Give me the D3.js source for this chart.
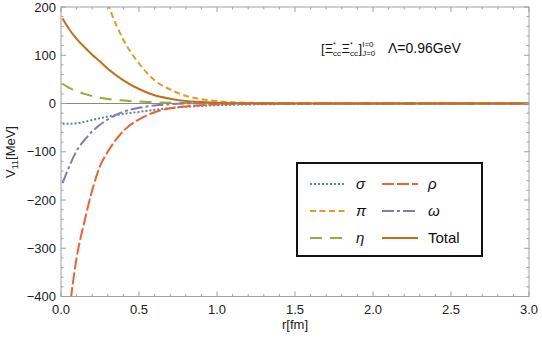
<!DOCTYPE html>
<html><head><meta charset="utf-8">
<script src="https://cdn.jsdelivr.net/npm/d3@7"></script>
<style>body{margin:0;background:#fff}svg{display:block;font-family:"Liberation Sans",Arial,sans-serif}</style>
</head><body>
<svg id="c" width="542" height="340"></svg>
<script>
const r      = [0.01,0.05,0.1,0.15,0.2,0.25,0.3,0.4,0.5,0.6,0.7,0.8,0.9,1.0,1.2,1.5,2.0,2.5,3.0];
const sigma  = [-42,-42,-41,-38,-34,-30.5,-27,-21.5,-17.5,-13,-9.5,-7,-5,-3.5,-2,-1,-0.3,-0.1,0];
const pi     = [790,660,520,415,330,262,208,132,83,48,29,16,9,5,1.5,0.3,0,0,0];
const eta    = [41,33,26,20,15.5,12,9.5,6,4,2.5,1.5,1,0.6,0.4,0.2,0.1,0,0,0];
const rho    = [-560,-440,-320,-245,-180,-130,-100,-57,-33,-18,-10,-6,-3.5,-2,-0.8,-0.2,0,0,0];
const omega  = [-165,-133,-98,-76,-58,-44,-33,-17,-9,-4,-1.5,0,0.5,0.6,0.5,0.2,0,0,0];
const total  = [176,155,134,117,101,87,72,48,30,17,10,5,3,1.5,0.5,0.1,0,0,0];
const xTicks = [0,0.5,1.0,1.5,2.0,2.5,3.0];
const yTicks = [-400,-300,-200,-100,0,100,200];

const series = [
  {name:"σ", vals:sigma, color:"#5E81B5", dash:"2,2", italic:true},
  {name:"π", vals:pi,    color:"#E19C24", dash:"6,3.5", italic:true},
  {name:"η", vals:eta,   color:"#8FB032", dash:"12,8", italic:true},
  {name:"ρ", vals:rho,   color:"#EB6235", dash:"12,3", italic:true},
  {name:"ω", vals:omega, color:"#8778B3", dash:"12,3,3,3", italic:true},
  {name:"Total", vals:total, color:"#C56E1A", dash:null, italic:false}
];

const L=61,R=529,T=7,B=296.5;
const x=d3.scaleLinear().domain([0,3]).range([L,R]);
const y=d3.scaleLinear().domain([-400,200]).range([B,T]);
const svg=d3.select("#c");

svg.append("defs").append("clipPath").attr("id","clip")
  .append("rect").attr("x",L).attr("y",T).attr("width",R-L).attr("height",B-T);

svg.append("line").attr("x1",L).attr("x2",R).attr("y1",y(0)).attr("y2",y(0))
  .attr("stroke","#8a8a8a").attr("stroke-width",1.2);

const line=d3.line().x((d,i)=>x(r[i])).y(d=>y(d)).curve(d3.curveMonotoneX);
const g=svg.append("g").attr("clip-path","url(#clip)");
series.forEach(s=>{
  g.append("path").attr("d",line(s.vals)).attr("fill","none")
   .attr("stroke",s.color).attr("stroke-width",2)
   .attr("stroke-dasharray",s.dash);
});

const fc="#a0a0a0";
svg.append("rect").attr("x",L).attr("y",T).attr("width",R-L).attr("height",B-T)
  .attr("fill","none").attr("stroke",fc).attr("stroke-width",1);

const xMinor=d3.range(0,3.0001,0.1);
const yMinor=d3.range(-400,200.001,20);
const tk=svg.append("g").attr("stroke",fc).attr("stroke-width",1);
xMinor.forEach(v=>{
  const major=xTicks.some(t=>Math.abs(t-v)<1e-6); const len=major?5:2.5;
  tk.append("line").attr("x1",x(v)).attr("x2",x(v)).attr("y1",B).attr("y2",B-len);
  tk.append("line").attr("x1",x(v)).attr("x2",x(v)).attr("y1",T).attr("y2",T+len);
});
yMinor.forEach(v=>{
  const major=yTicks.some(t=>Math.abs(t-v)<1e-6); const len=major?5:2.5;
  tk.append("line").attr("x1",L).attr("x2",L+len).attr("y1",y(v)).attr("y2",y(v));
  tk.append("line").attr("x1",R).attr("x2",R-len).attr("y1",y(v)).attr("y2",y(v));
});

xTicks.forEach(v=>{
  svg.append("text").attr("x",x(v)).attr("y",B+17).attr("text-anchor","middle")
    .attr("font-size",13).attr("fill","#222").text(v.toFixed(1));
});
yTicks.forEach(v=>{
  svg.append("text").attr("x",L-5).attr("y",y(v)+4.5).attr("text-anchor","end")
    .attr("font-size",13).attr("fill","#222").text(v<0?"\u2212"+Math.abs(v):v);
});

svg.append("text").attr("x",295).attr("y",329).attr("text-anchor","middle")
  .attr("font-size",13).attr("fill","#222").text("r[fm]");
const yl=svg.append("text").attr("transform","translate(15,152) rotate(-90)")
  .attr("text-anchor","middle").attr("font-size",13).attr("fill","#222");
yl.append("tspan").text("V");
yl.append("tspan").attr("font-size",9).attr("dy",3).text("11");
yl.append("tspan").attr("dy",-3).text("[MeV]");

// annotation, laid out piece by piece
const base=53;
let cx=321;
const ann=svg.append("g").attr("fill","#111");
function put(str,size,dy){
  const t=ann.append("text").attr("x",cx).attr("y",base+dy).attr("font-size",size).text(str);
  return t.node().getComputedTextLength();
}
cx+=put("[",13,0);
cx+=put("Ξ",13,0);
{ const w1=put("*",7,-6.5); const w2=put("cc",8,2.5); cx+=Math.max(w1,w2)+0.5; }
cx+=put("Ξ",13,0);
{ const w1=put("*",7,-6.5); const w2=put("cc",8,2.5); cx+=Math.max(w1,w2)+0.5; }
cx+=put("]",13,0);
{ const w1=put("I=0",8,-6); const w2=put("J=0",8,3); cx+=Math.max(w1,w2); }
cx=388;
put("Λ=0.96GeV",14,0);

// legend
svg.append("rect").attr("x",297).attr("y",163).attr("width",185).attr("height",93)
  .attr("fill","#fff").attr("stroke","#111").attr("stroke-width",2);
const cols=[{lx:310,tx:356},{lx:382,tx:428}];
const rows=[184,211,238];
const order=[[0,0,0],[3,1,0],[1,0,1],[4,1,1],[2,0,2],[5,1,2]];
order.forEach(([si,ci,ri])=>{
  const s=series[si]; const c=cols[ci]; const yy=rows[ri];
  svg.append("line").attr("x1",c.lx).attr("x2",c.lx+36).attr("y1",yy).attr("y2",yy)
    .attr("stroke",s.color).attr("stroke-width",2).attr("stroke-dasharray",s.dash);
  svg.append("text").attr("x",c.tx).attr("y",yy+5).attr("font-size",15)
    .attr("font-style",s.italic?"italic":"normal").attr("fill","#111").text(s.name);
});
</script>
</body></html>
